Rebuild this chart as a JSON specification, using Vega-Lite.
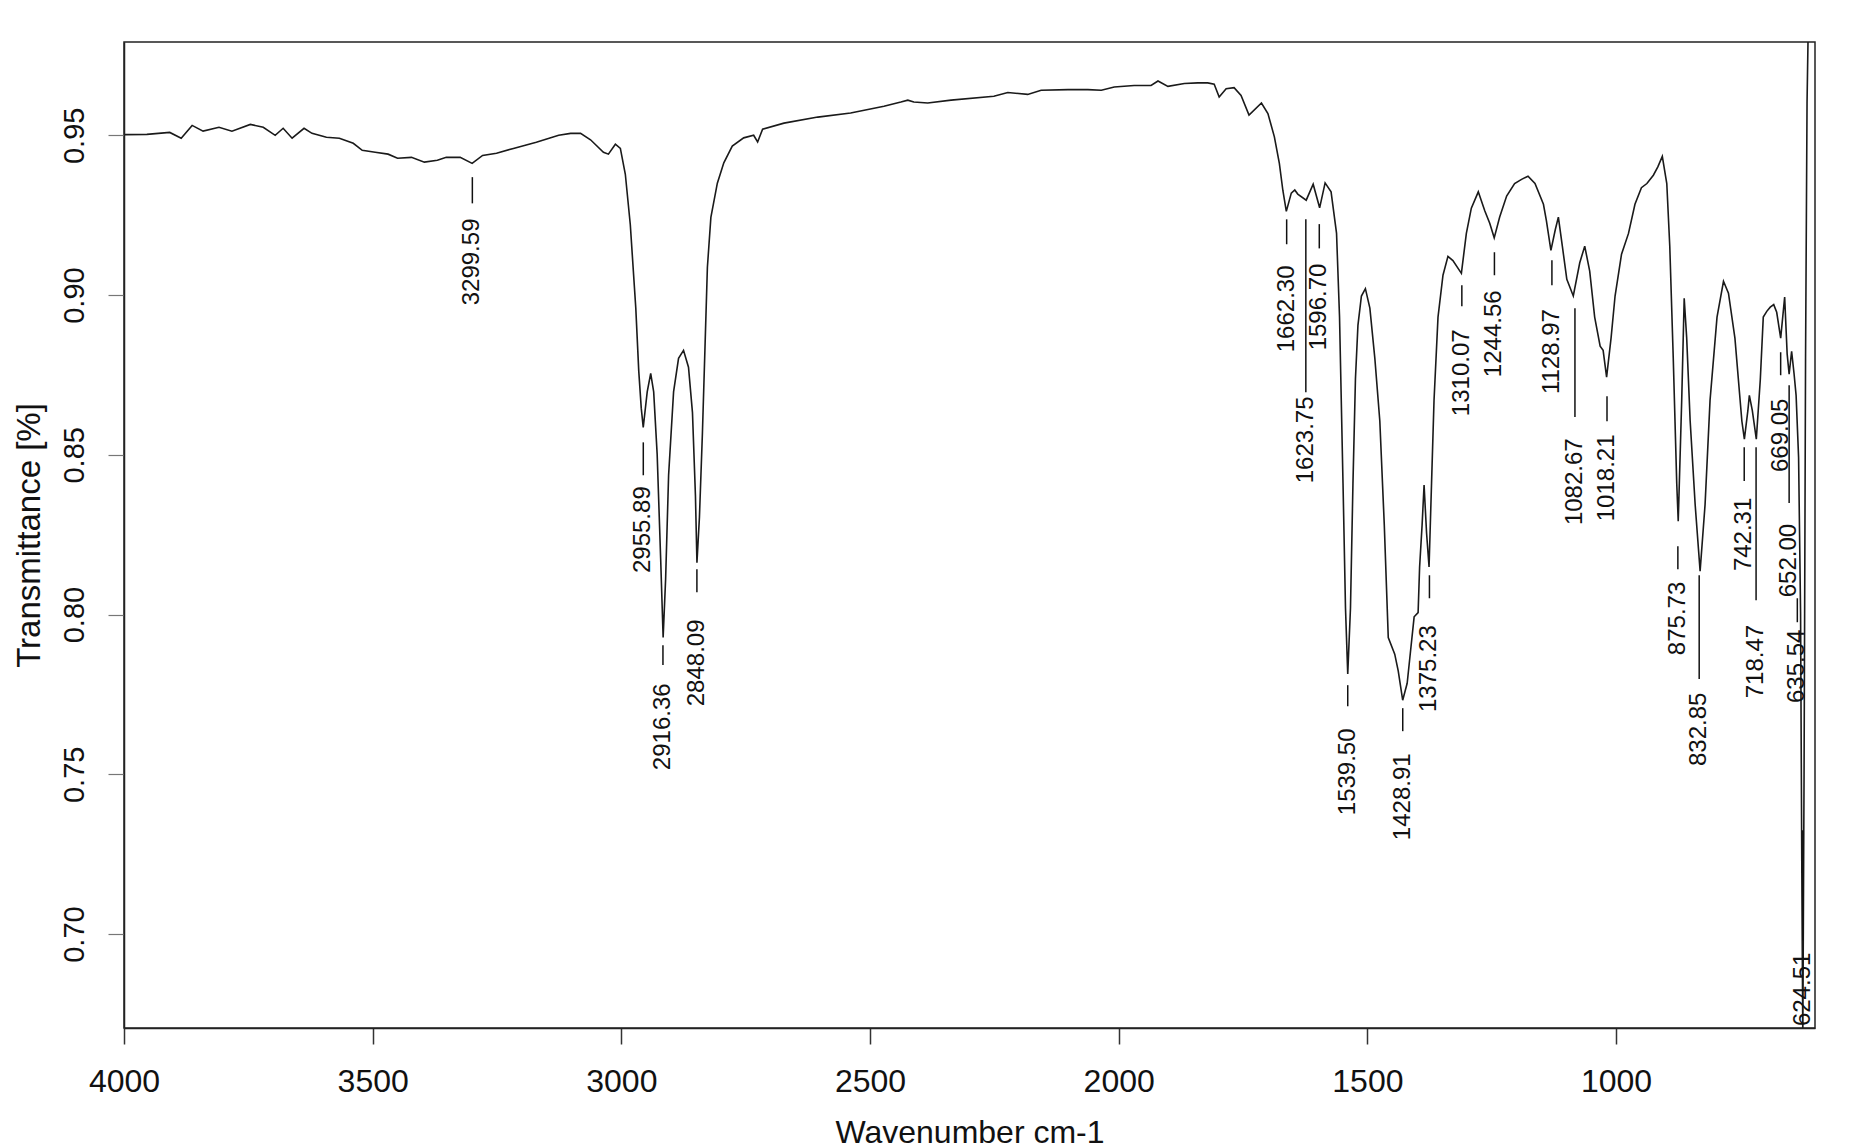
{
  "$schema": "https://vega.github.io/schema/vega-lite/v6.json",
  "width": 1691,
  "height": 986,
  "autosize": {"type": "none"},
  "padding": {"left": 124, "top": 42, "right": 34, "bottom": 120},
  "background": "white",
  "config": {
    "view": {"stroke": "#222", "strokeWidth": 1.5},
    "font": "Liberation Sans, Arial, sans-serif"
  },
  "datasets": {
    "spectrum": [
      {"w": 3998, "t": 0.9502}, {"w": 3954, "t": 0.9503}, {"w": 3908, "t": 0.9509}, {"w": 3885, "t": 0.9491},
      {"w": 3863, "t": 0.9531}, {"w": 3841, "t": 0.9513}, {"w": 3809, "t": 0.9525}, {"w": 3783, "t": 0.9513},
      {"w": 3746, "t": 0.9534}, {"w": 3720, "t": 0.9525}, {"w": 3696, "t": 0.95}, {"w": 3680, "t": 0.9522},
      {"w": 3662, "t": 0.9491}, {"w": 3638, "t": 0.9522}, {"w": 3622, "t": 0.9506}, {"w": 3593, "t": 0.9494},
      {"w": 3567, "t": 0.9491}, {"w": 3539, "t": 0.9475}, {"w": 3521, "t": 0.9453}, {"w": 3495, "t": 0.9447},
      {"w": 3469, "t": 0.9441}, {"w": 3450, "t": 0.9428}, {"w": 3422, "t": 0.9431}, {"w": 3396, "t": 0.9416},
      {"w": 3370, "t": 0.9422}, {"w": 3352, "t": 0.9431}, {"w": 3324, "t": 0.9431}, {"w": 3300, "t": 0.9412},
      {"w": 3279, "t": 0.9437}, {"w": 3251, "t": 0.9444}, {"w": 3217, "t": 0.9459}, {"w": 3171, "t": 0.9478},
      {"w": 3126, "t": 0.95}, {"w": 3102, "t": 0.9506}, {"w": 3082, "t": 0.9506}, {"w": 3062, "t": 0.9486},
      {"w": 3036, "t": 0.9447}, {"w": 3026, "t": 0.9441}, {"w": 3012, "t": 0.9472}, {"w": 3002, "t": 0.9459},
      {"w": 2992, "t": 0.9378}, {"w": 2982, "t": 0.922}, {"w": 2971, "t": 0.896}, {"w": 2965, "t": 0.8762},
      {"w": 2960, "t": 0.8646}, {"w": 2956, "t": 0.8586}, {"w": 2948, "t": 0.8697}, {"w": 2941, "t": 0.8755},
      {"w": 2935, "t": 0.8697}, {"w": 2928, "t": 0.8502}, {"w": 2921, "t": 0.8176}, {"w": 2916, "t": 0.7928},
      {"w": 2911, "t": 0.8111}, {"w": 2905, "t": 0.8436}, {"w": 2895, "t": 0.8697}, {"w": 2885, "t": 0.8802},
      {"w": 2875, "t": 0.8827}, {"w": 2865, "t": 0.8774}, {"w": 2857, "t": 0.8632}, {"w": 2851, "t": 0.837},
      {"w": 2848, "t": 0.8162}, {"w": 2843, "t": 0.8305}, {"w": 2837, "t": 0.8568}, {"w": 2832, "t": 0.8827},
      {"w": 2827, "t": 0.9087}, {"w": 2820, "t": 0.9243}, {"w": 2807, "t": 0.935}, {"w": 2794, "t": 0.9414},
      {"w": 2777, "t": 0.9466}, {"w": 2754, "t": 0.9492}, {"w": 2734, "t": 0.95}, {"w": 2726, "t": 0.9479},
      {"w": 2716, "t": 0.9519}, {"w": 2673, "t": 0.9538}, {"w": 2605, "t": 0.9557}, {"w": 2539, "t": 0.957},
      {"w": 2472, "t": 0.9591}, {"w": 2438, "t": 0.9604}, {"w": 2424, "t": 0.961}, {"w": 2412, "t": 0.9604},
      {"w": 2384, "t": 0.9601}, {"w": 2337, "t": 0.961}, {"w": 2251, "t": 0.9622}, {"w": 2223, "t": 0.9634},
      {"w": 2183, "t": 0.9628}, {"w": 2156, "t": 0.9641}, {"w": 2102, "t": 0.9643}, {"w": 2062, "t": 0.9643},
      {"w": 2035, "t": 0.9641}, {"w": 2009, "t": 0.9651}, {"w": 1969, "t": 0.9656}, {"w": 1935, "t": 0.9656},
      {"w": 1921, "t": 0.967}, {"w": 1901, "t": 0.9653}, {"w": 1868, "t": 0.9662}, {"w": 1841, "t": 0.9664},
      {"w": 1821, "t": 0.9664}, {"w": 1808, "t": 0.966}, {"w": 1798, "t": 0.962}, {"w": 1784, "t": 0.9646},
      {"w": 1768, "t": 0.9649}, {"w": 1754, "t": 0.9625}, {"w": 1738, "t": 0.9563}, {"w": 1713, "t": 0.9601},
      {"w": 1700, "t": 0.9568}, {"w": 1687, "t": 0.9495}, {"w": 1677, "t": 0.9412}, {"w": 1670, "t": 0.9328},
      {"w": 1663, "t": 0.9262}, {"w": 1653, "t": 0.9319}, {"w": 1646, "t": 0.9329}, {"w": 1640, "t": 0.9316},
      {"w": 1623, "t": 0.9297}, {"w": 1609, "t": 0.9347}, {"w": 1596, "t": 0.9273}, {"w": 1585, "t": 0.9351},
      {"w": 1573, "t": 0.9323}, {"w": 1562, "t": 0.9193}, {"w": 1556, "t": 0.8931}, {"w": 1549, "t": 0.8411},
      {"w": 1544, "t": 0.802}, {"w": 1539.5, "t": 0.7814}, {"w": 1534, "t": 0.802}, {"w": 1529, "t": 0.8411},
      {"w": 1524, "t": 0.8737}, {"w": 1519, "t": 0.8905}, {"w": 1512, "t": 0.8997}, {"w": 1504, "t": 0.902},
      {"w": 1495, "t": 0.8959}, {"w": 1485, "t": 0.8802}, {"w": 1475, "t": 0.8606}, {"w": 1466, "t": 0.828},
      {"w": 1458, "t": 0.7928}, {"w": 1445, "t": 0.7876}, {"w": 1438, "t": 0.7824}, {"w": 1429, "t": 0.7732},
      {"w": 1420, "t": 0.7785}, {"w": 1413, "t": 0.7889}, {"w": 1406, "t": 0.7993}, {"w": 1398, "t": 0.8006},
      {"w": 1395, "t": 0.8149}, {"w": 1390, "t": 0.828}, {"w": 1386, "t": 0.8405}, {"w": 1381, "t": 0.8255},
      {"w": 1376, "t": 0.8149}, {"w": 1371, "t": 0.8411}, {"w": 1366, "t": 0.8671}, {"w": 1358, "t": 0.8931},
      {"w": 1348, "t": 0.9062}, {"w": 1338, "t": 0.9121}, {"w": 1328, "t": 0.9108}, {"w": 1311, "t": 0.9068},
      {"w": 1301, "t": 0.9193}, {"w": 1291, "t": 0.9272}, {"w": 1277, "t": 0.9323}, {"w": 1264, "t": 0.9264},
      {"w": 1254, "t": 0.9225}, {"w": 1245, "t": 0.9179}, {"w": 1234, "t": 0.9244}, {"w": 1220, "t": 0.931},
      {"w": 1204, "t": 0.9349}, {"w": 1190, "t": 0.9362}, {"w": 1177, "t": 0.9372}, {"w": 1163, "t": 0.9349},
      {"w": 1146, "t": 0.9284}, {"w": 1140, "t": 0.9232}, {"w": 1131, "t": 0.914}, {"w": 1122, "t": 0.9206},
      {"w": 1116, "t": 0.9244}, {"w": 1108, "t": 0.9153}, {"w": 1099, "t": 0.9049}, {"w": 1086, "t": 0.8997},
      {"w": 1073, "t": 0.9101}, {"w": 1063, "t": 0.9153}, {"w": 1053, "t": 0.9075}, {"w": 1043, "t": 0.8931},
      {"w": 1032, "t": 0.884}, {"w": 1026, "t": 0.8827}, {"w": 1019, "t": 0.8743}, {"w": 1010, "t": 0.8866},
      {"w": 1002, "t": 0.8997}, {"w": 989, "t": 0.9128}, {"w": 975, "t": 0.9193}, {"w": 962, "t": 0.9284},
      {"w": 949, "t": 0.9336}, {"w": 938, "t": 0.9349}, {"w": 925, "t": 0.9375}, {"w": 916, "t": 0.9401},
      {"w": 907, "t": 0.9434}, {"w": 898, "t": 0.9349}, {"w": 892, "t": 0.9153}, {"w": 885, "t": 0.8802},
      {"w": 878, "t": 0.8411}, {"w": 875, "t": 0.8292}, {"w": 868, "t": 0.8671}, {"w": 863, "t": 0.899},
      {"w": 858, "t": 0.8866}, {"w": 851, "t": 0.8606}, {"w": 841, "t": 0.8345}, {"w": 831, "t": 0.8136},
      {"w": 821, "t": 0.8345}, {"w": 811, "t": 0.8671}, {"w": 797, "t": 0.8931}, {"w": 784, "t": 0.9043},
      {"w": 774, "t": 0.9006}, {"w": 761, "t": 0.8865}, {"w": 747, "t": 0.8605}, {"w": 742, "t": 0.8549},
      {"w": 735, "t": 0.8638}, {"w": 732, "t": 0.8686}, {"w": 726, "t": 0.8638}, {"w": 718, "t": 0.8549},
      {"w": 710, "t": 0.8735}, {"w": 704, "t": 0.8931}, {"w": 697, "t": 0.8949}, {"w": 690, "t": 0.8962},
      {"w": 683, "t": 0.897}, {"w": 677, "t": 0.8946}, {"w": 669, "t": 0.8865}, {"w": 661, "t": 0.8994},
      {"w": 656, "t": 0.8816}, {"w": 652, "t": 0.8752}, {"w": 647, "t": 0.8824}, {"w": 642, "t": 0.8752},
      {"w": 638, "t": 0.8686}, {"w": 633, "t": 0.8492}, {"w": 629, "t": 0.8004}, {"w": 626.5, "t": 0.7194},
      {"w": 624.5, "t": 0.668}, {"w": 622, "t": 0.75}, {"w": 619, "t": 0.88}, {"w": 616, "t": 0.96},
      {"w": 613, "t": 0.99}
    ],
    "peaks": [
      {"w": 3299.59, "label": "3299.59", "t": 0.8968, "t1": 0.9369, "t2": 0.9287},
      {"w": 2955.89, "label": "2955.89", "t": 0.813, "t1": 0.8539, "t2": 0.8436},
      {"w": 2916.36, "label": "2916.36", "t": 0.7513, "t1": 0.7904, "t2": 0.7842},
      {"w": 2848.09, "label": "2848.09", "t": 0.7713, "t1": 0.8142, "t2": 0.807},
      {"w": 1662.30, "label": "1662.30", "t": 0.8821, "t1": 0.9237, "t2": 0.9159},
      {"w": 1623.75, "label": "1623.75", "t": 0.8411, "t1": 0.9237, "t2": 0.8696},
      {"w": 1596.70, "label": "1596.70", "t": 0.8827, "t1": 0.9222, "t2": 0.9146},
      {"w": 1539.50, "label": "1539.50", "t": 0.7372, "t1": 0.7779, "t2": 0.7713},
      {"w": 1428.91, "label": "1428.91", "t": 0.7294, "t1": 0.7707, "t2": 0.7635},
      {"w": 1375.23, "label": "1375.23", "t": 0.7695, "t1": 0.8123, "t2": 0.8051},
      {"w": 1310.07, "label": "1310.07", "t": 0.8621, "t1": 0.9031, "t2": 0.8965},
      {"w": 1244.56, "label": "1244.56", "t": 0.8743, "t1": 0.9134, "t2": 0.9062},
      {"w": 1128.97, "label": "1128.97", "t": 0.869, "t1": 0.9109, "t2": 0.9031},
      {"w": 1082.67, "label": "1082.67", "t": 0.828, "t1": 0.8959, "t2": 0.8618},
      {"w": 1018.21, "label": "1018.21", "t": 0.8292, "t1": 0.8683, "t2": 0.8605},
      {"w": 875.73, "label": "875.73", "t": 0.7873, "t1": 0.8214, "t2": 0.8142},
      {"w": 832.85, "label": "832.85", "t": 0.7526, "t1": 0.8123, "t2": 0.7798},
      {"w": 742.31, "label": "742.31", "t": 0.8136, "t1": 0.8524, "t2": 0.8418},
      {"w": 718.47, "label": "718.47", "t": 0.7738, "t1": 0.8524, "t2": 0.8045},
      {"w": 669.05, "label": "669.05", "t": 0.8446, "t1": 0.8821, "t2": 0.8749},
      {"w": 652.00, "label": "652.00", "t": 0.8054, "t1": 0.8718, "t2": 0.8349},
      {"w": 635.54, "label": "635.54", "t": 0.7723, "t1": 0.8051, "t2": 0.7976},
      {"w": 624.51, "label": "624.51", "t": 0.6712, "t1": 0.7325, "t2": 0.6981}
    ]
  },
  "encoding": {
    "x": {
      "field": "w", "type": "quantitative",
      "scale": {"domain": [600, 4000], "reverse": true, "nice": false, "zero": false},
      "axis": {
        "values": [4000, 3500, 3000, 2500, 2000, 1500, 1000],
        "format": "d", "grid": false,
        "title": "Wavenumber cm-1",
        "titleFontSize": 32, "titleFontWeight": "normal", "titleColor": "#111",
        "titleBaseline": "alphabetic", "titleY": 114,
        "labelFontSize": 32, "labelColor": "#111", "labelPadding": 22,
        "labelFlush": false, "labelOverlap": false,
        "tickSize": 16, "tickColor": "#333", "tickWidth": 1.5,
        "domainColor": "#222", "domainWidth": 1.5
      }
    }
  },
  "layer": [
    {
      "data": {"name": "spectrum"},
      "mark": {"type": "line", "color": "#1a1a1a", "strokeWidth": 1.6, "clip": true},
      "encoding": {
        "y": {
          "field": "t", "type": "quantitative",
          "scale": {"domain": [0.6706, 0.9792], "nice": false, "zero": false},
          "axis": {
            "values": [0.7, 0.75, 0.8, 0.85, 0.9, 0.95],
            "format": ".2f", "grid": false,
            "title": "Transmittance [%]",
            "titleFontSize": 33, "titleFontWeight": "normal", "titleColor": "#111",
            "titleAngle": 270, "titleBaseline": "alphabetic", "titleAlign": "center",
            "titleX": -85, "titleY": 493,
            "labelFontSize": 29, "labelColor": "#111", "labelAngle": 270,
            "labelAlign": "center", "labelBaseline": "alphabetic", "labelPadding": 25,
            "labelFlush": false, "labelOverlap": false,
            "tickSize": 16, "tickColor": "#777", "tickWidth": 1.2,
            "domainColor": "#222", "domainWidth": 1.5
          }
        }
      }
    },
    {
      "data": {"name": "peaks"},
      "mark": {"type": "rule", "color": "#111", "strokeWidth": 1.5},
      "encoding": {
        "y": {"field": "t1", "type": "quantitative"},
        "y2": {"field": "t2"}
      }
    },
    {
      "data": {"name": "peaks"},
      "mark": {"type": "text", "angle": 270, "align": "left", "baseline": "middle", "fontSize": 24, "color": "#111"},
      "encoding": {
        "y": {"field": "t", "type": "quantitative"},
        "text": {"field": "label", "type": "nominal"}
      }
    }
  ]
}
